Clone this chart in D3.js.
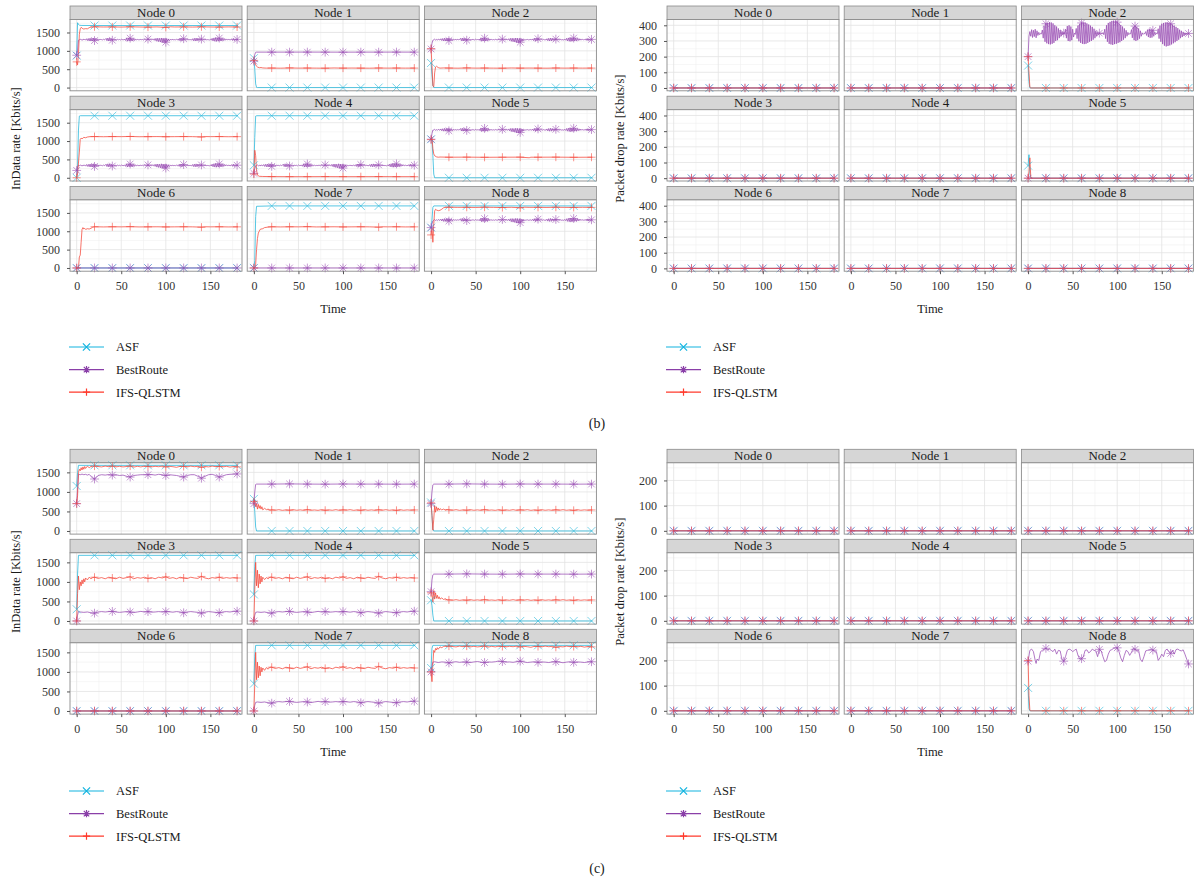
<!DOCTYPE html>
<html>
<head>
<meta charset="utf-8">
<script src="https://cdn.jsdelivr.net/npm/d3@7"></script>
<style>
  body { margin: 0; background: #fff; }
  svg text { font-family: "Liberation Serif", "DejaVu Serif", serif; }
</style>
</head>
<body>
<svg id="chart" width="1194" height="885"></svg>
<script>
// ---- categories / ticks ----
const nodeNames = ['Node 0', 'Node 1', 'Node 2', 'Node 3', 'Node 4', 'Node 5', 'Node 6', 'Node 7', 'Node 8'];
const seriesNames = ['ASF', 'BestRoute', 'IFS-QLSTM'];
const timeTicks = [0, 50, 100, 150];
const inTicksB = [0, 500, 1000, 1500];
const dropTicksB = [0, 100, 200, 300, 400];
const inTicksC = [0, 500, 1000, 1500];
const dropTicksC = [0, 100, 200];

// ---- values: [time, value] ----
const tailZero = [[20,0],[40,0],[60,0],[80,0],[100,0],[120,0],[140,0],[160,0],[180,0],[181,0]];
const zeroLine = [[0,0]].concat(tailZero);
const tailAsfB = [[20,1690],[40,1690],[60,1690],[80,1690],[100,1690],[120,1690],[140,1690],[160,1690],[180,1690],[181,1690]];
const tailAsfC = [[20,1680],[40,1680],[60,1680],[80,1680],[100,1680],[120,1680],[140,1680],[160,1680],[180,1680],[181,1680]];
const tailBr965 = [[20,965],[40,965],[60,966],[80,965],[100,964],[120,965],[140,965],[160,966],[180,965],[181,965]];
const tailBr1200 = [[20,1200],[40,1205],[60,1200],[80,1198],[100,1202],[120,1200],[140,1200],[160,1198],[180,1200],[181,1200]];

const tailIfs530B = [[20,532],[30,528],[40,535],[50,530],[60,532],[70,530],[80,528],[90,534],[100,530],[110,532],[120,530],[130,528],[140,533],[150,530],[160,532],[170,530],[180,531],[181,531]];
const tailIfs1120B = [[20,1122],[30,1118],[40,1122],[50,1120],[60,1125],[70,1118],[80,1120],[90,1122],[100,1118],[110,1120],[120,1122],[130,1120],[140,1112],[145,1122],[150,1120],[160,1122],[170,1118],[180,1120],[181,1120]];
const tailIfs1650B = [[20,1655],[30,1650],[40,1652],[50,1648],[60,1655],[70,1650],[80,1646],[90,1652],[100,1640],[105,1655],[110,1650],[120,1652],[130,1648],[140,1654],[150,1650],[160,1648],[170,1652],[180,1650],[181,1650]];

// BestRoute in (b), values at t = 3, 4, 5, ... 181
const brFuzzHigh = [
  1300,1318,1295,1312,1290,1320,1305,1296,1330,1280,
  1335,1270,1345,1275,1340,1268,1350,1280,1338,1285,
  1330,1290,1318,1300,1312,1305,1298,1315,1302,1310,
  1340,1275,1350,1270,1345,1280,1335,1290,1325,1300,
  1312,1305,1298,1316,1300,1310,1295,1318,1303,1308,
  1296,1322,1280,1345,1265,1350,1270,1345,1268,1340,
  1275,1335,1282,1325,1295,1312,1300,1308,1298,1315,
  1302,1310,1296,1318,1300,1306,1292,1320,1298,1310,
  1304,1300,1312,1296,1330,1280,1340,1260,1345,1250,
  1340,1240,1350,1230,1345,1220,1340,1235,1335,1255,
  1325,1275,1310,1300,1305,1312,1298,1306,1300,1314,
  1295,1325,1280,1338,1272,1342,1278,1330,1290,1318,
  1302,1308,1298,1312,1300,1306,1294,1330,1276,1342,
  1268,1348,1270,1340,1280,1332,1288,1320,1298,1310,
  1304,1300,1310,1298,1306,1302,1296,1318,1290,1340,
  1270,1352,1262,1360,1258,1355,1265,1348,1270,1345,
  1275,1340,1280,1332,1290,1325,1298,1312,1302,1308,
  1296,1330,1282,1338,1278,1325,1290,1312,1300
];
const brFuzzLow = [
  330,348,325,342,320,350,335,326,360,310,
  365,300,375,305,370,298,380,310,368,315,
  360,320,348,330,342,335,328,345,332,340,
  370,305,380,300,375,310,365,320,355,330,
  342,335,328,346,330,340,325,348,333,338,
  326,352,310,375,295,380,300,375,298,370,
  305,365,312,355,325,342,330,338,328,345,
  332,340,326,348,330,336,322,350,328,340,
  334,330,342,326,360,310,370,290,375,280,
  370,270,380,260,375,250,370,265,365,285,
  355,305,340,330,335,342,328,336,330,344,
  325,355,310,368,302,372,308,360,320,348,
  332,338,328,342,330,336,324,360,306,372,
  298,378,300,370,310,362,318,350,328,340,
  334,330,340,328,336,332,326,348,320,370,
  300,382,292,390,288,385,295,378,300,375,
  305,370,310,362,320,355,328,342,332,338,
  326,360,312,368,308,355,320,342,330
];
// BestRoute packet drop, (b) Node 2, values at t = 2, 3, ... 181
const brOscDrop = [
  360,330,372,322,368,328,375,320,365,335,
  355,340,348,345,370,318,395,295,410,285,
  415,280,420,278,418,282,412,288,400,300,
  392,305,380,318,370,330,360,340,350,345,
  375,318,395,300,400,298,392,305,375,325,
  350,342,380,315,398,298,410,288,415,282,
  418,280,416,282,412,288,405,295,398,300,
  390,308,378,318,365,330,355,340,350,345,
  348,346,352,340,375,315,400,295,415,282,
  422,278,428,275,430,280,428,282,420,288,
  412,292,402,300,392,308,380,318,368,330,
  355,340,348,345,372,320,390,305,395,300,
  390,305,380,315,365,330,352,342,348,346,
  360,335,372,325,378,320,375,322,368,330,
  355,340,350,345,378,315,398,295,410,280,
  415,270,418,265,420,268,416,272,410,278,
  405,285,398,292,390,300,382,308,372,318,
  365,325,358,332,352,338,350,342,348,345
];

const tailIfs1650C = [[20,1660],[24,1650],[28,1640],[32,1660],[36,1645],[40,1660],[44,1640],[48,1655],[52,1640],[56,1650],[60,1660],[64,1635],[68,1655],[72,1640],[76,1660],[80,1650],[84,1640],[88,1655],[92,1645],[96,1660],[100,1640],[104,1655],[108,1645],[112,1630],[116,1655],[120,1650],[124,1640],[128,1660],[132,1645],[136,1655],[140,1630],[144,1650],[148,1640],[152,1660],[156,1645],[160,1650],[164,1640],[168,1655],[172,1635],[176,1650],[180,1640],[181,1640]];
const tailIfs1100C = [[20,1120],[24,1090],[28,1110],[32,1080],[36,1120],[40,1100],[44,1080],[48,1120],[52,1090],[56,1110],[60,1130],[64,1080],[68,1110],[72,1095],[76,1120],[80,1090],[84,1110],[88,1080],[92,1120],[96,1100],[100,1130],[104,1090],[108,1110],[112,1080],[116,1120],[120,1100],[124,1085],[128,1120],[132,1100],[136,1090],[140,1140],[144,1100],[148,1080],[152,1110],[156,1095],[160,1120],[164,1090],[168,1110],[172,1095],[176,1110],[180,1100],[181,1100]];
const tailIfs540C = [[20,540],[24,530],[28,545],[32,528],[36,540],[40,532],[44,545],[48,530],[52,540],[56,528],[60,545],[64,530],[68,538],[72,528],[76,545],[80,530],[84,540],[88,530],[92,545],[96,528],[100,540],[104,532],[108,545],[112,528],[116,540],[120,530],[124,545],[128,530],[132,540],[136,528],[140,542],[144,530],[148,545],[152,530],[156,540],[160,528],[164,545],[168,530],[172,540],[176,532],[180,538],[181,538]];
const tailBr230C = [[4,230],[8,220],[12,230],[16,210],[20,200],[24,230],[28,240],[32,230],[36,240],[40,245],[44,230],[48,220],[52,230],[56,240],[60,230],[64,215],[68,230],[72,245],[76,230],[80,240],[84,225],[88,230],[92,240],[96,230],[100,240],[104,235],[108,225],[112,240],[116,230],[120,210],[124,230],[128,240],[132,230],[136,220],[140,200],[144,225],[148,240],[152,230],[156,220],[160,210],[164,230],[168,240],[172,230],[176,245],[180,250],[181,250]];
const tailBr1250C = [[4,1260],[8,1240],[12,1255],[16,1250],[20,1230],[24,1250],[28,1260],[32,1245],[36,1255],[40,1250],[44,1240],[48,1255],[52,1265],[56,1250],[60,1240],[64,1255],[68,1250],[72,1260],[76,1280],[80,1265],[84,1250],[88,1255],[92,1245],[96,1260],[100,1275],[104,1255],[108,1240],[112,1250],[116,1260],[120,1245],[124,1255],[128,1250],[132,1240],[136,1255],[140,1260],[144,1250],[148,1235],[152,1250],[156,1260],[160,1245],[164,1255],[168,1250],[172,1240],[176,1255],[180,1260],[181,1260]];
const brDropC8 = [[0,197],[2,240],[4,245],[6,235],[8,200],[9,188],[10,205],[12,200],[14,235],[16,240],[18,245],[20,248],[22,242],[24,245],[26,240],[28,235],[30,245],[32,225],[34,240],[36,238],[38,205],[40,197],[42,215],[44,240],[46,245],[48,242],[50,235],[52,240],[54,245],[56,220],[58,205],[60,207],[62,215],[64,240],[66,242],[68,230],[70,235],[72,245],[74,240],[76,238],[78,215],[80,244],[82,238],[84,215],[86,195],[88,200],[90,225],[92,240],[94,243],[96,248],[98,250],[100,250],[102,235],[104,210],[106,195],[108,220],[110,240],[112,235],[114,220],[116,232],[118,248],[120,244],[122,238],[124,240],[126,205],[128,195],[130,215],[132,238],[134,240],[136,242],[138,245],[140,241],[142,238],[144,235],[146,200],[148,210],[150,225],[152,215],[154,240],[156,245],[158,235],[160,228],[162,240],[164,225],[166,243],[168,245],[170,240],[172,238],[174,242],[176,225],[178,205],[180,186],[181,186]];

// typed values listed at consecutive seconds
function fromStep(start, values) {
  return values.map((v, i) => [start + i, v]);
}

// (b) InData rate, one series per node
const bInAsf = [
  [[0,870],[1,1766],[2,1720],[3,1700],[5,1692]].concat(tailAsfB),
  [[0,800],[1,500],[2,100],[3,5],[4,0]].concat(tailZero),
  [[0,670],[1,350],[2,60],[3,0]].concat(tailZero),
  [[0,0],[1,300],[2,1300],[3,1680],[4,1690]].concat(tailAsfB),
  [[0,340],[1,1100],[2,1680],[3,1690]].concat(tailAsfB),
  [[0,1050],[1,1000],[2,600],[3,100],[4,0]].concat(tailZero),
  zeroLine,
  [[0,0],[1,200],[2,1400],[3,1680]].concat(tailAsfB),
  [[0,1100],[1,1300],[2,1650],[3,1690]].concat(tailAsfB)
];
const bInBest = [
  [[0,880],[1,1000],[2,1290]].concat(fromStep(3, brFuzzHigh)),
  [[0,720],[1,900],[2,960],[3,965]].concat(tailBr965),
  [[0,1050],[1,1200],[2,1290]].concat(fromStep(3, brFuzzHigh)),
  [[0,200],[1,300],[2,340]].concat(fromStep(3, brFuzzLow)),
  [[0,120],[1,250],[2,330]].concat(fromStep(3, brFuzzLow)),
  [[0,1050],[1,1200],[2,1300]].concat(fromStep(3, brFuzzHigh)),
  zeroLine,
  zeroLine,
  [[0,1100],[1,1200],[2,1280]].concat(fromStep(3, brFuzzHigh))
];
const bInIfs = [
  [[0,700],[1,620],[2,900],[3,1450],[4,1600],[5,1640],[6,1620],[7,1600],[8,1595],[10,1605],[12,1600],[14,1630],[16,1650],[18,1648]].concat(tailIfs1650B),
  [[0,740],[1,700],[2,620],[3,580],[4,560],[6,540],[8,545],[10,535],[14,530]].concat(tailIfs530B),
  [[0,1060],[1,600],[2,50],[3,20],[4,400],[5,560],[6,580],[8,545],[10,530],[14,535]].concat(tailIfs530B),
  [[0,0],[1,100],[2,400],[3,700],[4,1050],[5,1080],[6,1060],[8,1100],[10,1090],[12,1110],[15,1120]].concat(tailIfs1120B),
  [[0,100],[1,750],[2,600],[3,200],[4,80],[5,50],[6,40],[10,35],[20,32],[40,30],[60,30],[80,32],[100,30],[120,30],[140,32],[160,30],[180,30],[181,30]],
  [[0,1040],[1,1100],[2,800],[3,650],[4,600],[6,570],[8,560],[10,565],[20,560],[40,562],[60,558],[80,560],[100,562],[110,545],[112,560],[120,560],[140,562],[160,558],[180,560],[181,560]],
  [[0,0],[2,0],[3,300],[4,350],[5,700],[6,1050],[7,1100],[8,1060],[9,1080],[10,1050],[12,1070],[14,1060],[16,1080],[18,1110]].concat(tailIfs1120B),
  [[0,0],[1,0],[2,100],[3,500],[4,800],[5,950],[6,1000],[7,1050],[8,1060],[10,1070],[12,1100],[15,1110]].concat(tailIfs1120B),
  [[0,900],[1,1100],[2,700],[3,1200],[4,1550],[5,1600],[6,1580],[8,1560],[10,1570],[12,1600],[14,1640],[16,1650]].concat(tailIfs1650B)
];

// (b) Packet drop rate
const bDropAsf = [zeroLine, zeroLine, [[0,143],[1,40],[2,0]].concat(tailZero), zeroLine, zeroLine,
  [[0,80],[1,150],[2,30],[3,0]].concat(tailZero), zeroLine, zeroLine, zeroLine];
const bDropBest = [zeroLine, zeroLine, [[0,200],[1,330]].concat(fromStep(2, brOscDrop)), zeroLine, zeroLine,
  zeroLine, zeroLine, zeroLine, zeroLine];
const bDropIfs = [zeroLine, zeroLine, [[0,200],[1,100],[2,5],[3,0]].concat(tailZero), zeroLine, zeroLine,
  [[0,0],[1,40],[2,130],[3,10],[4,0]].concat(tailZero), zeroLine, zeroLine, zeroLine];

// (c) InData rate
const cInAsf = [
  [[0,1150],[1,1500],[2,1680]].concat(tailAsfC),
  [[0,820],[1,500],[2,100],[3,0]].concat(tailZero),
  [[0,730],[1,400],[2,60],[3,0]].concat(tailZero),
  [[0,300],[1,1200],[2,1680]].concat(tailAsfC),
  [[0,680],[1,1400],[2,1680]].concat(tailAsfC),
  [[0,530],[1,400],[2,150],[3,0]].concat(tailZero),
  zeroLine,
  [[0,700],[1,1400],[2,1680]].concat(tailAsfC),
  [[0,1100],[1,1600],[2,1680]].concat(tailAsfC)
];
const cInBest = [
  [[0,700],[1,1100],[2,1450],[4,1440],[6,1455],[8,1440],[10,1450],[12,1430],[14,1450],[16,1400],[18,1350],[20,1330],[22,1370],[24,1420],[28,1440],[32,1430],[36,1445],[40,1430],[44,1440],[48,1420],[52,1430],[56,1400],[60,1380],[64,1420],[68,1430],[72,1440],[76,1440],[80,1440],[84,1445],[88,1430],[92,1450],[96,1440],[100,1420],[104,1440],[108,1430],[112,1420],[116,1400],[120,1380],[124,1420],[128,1440],[132,1440],[136,1400],[140,1350],[144,1400],[148,1440],[152,1450],[156,1420],[160,1380],[164,1410],[168,1440],[172,1450],[176,1455],[180,1460],[181,1460]],
  [[0,700],[1,1000],[2,1190],[3,1200]].concat(tailBr1200),
  [[0,700],[1,1000],[2,1180],[3,1200]].concat(tailBr1200),
  [[0,0],[1,150],[2,240]].concat(tailBr230C),
  [[0,0],[1,150],[2,220]].concat(tailBr230C),
  [[0,750],[1,1050],[2,1180],[3,1200]].concat(tailBr1200),
  zeroLine,
  [[0,0],[1,150],[2,220]].concat(tailBr230C),
  [[0,1000],[1,1150],[2,1250]].concat(tailBr1250C)
];
const cInIfs = [
  [[0,700],[1,900],[2,1500],[3,1580],[4,1540],[5,1620],[6,1560],[7,1640],[8,1580],[9,1650],[10,1600],[12,1660],[14,1620],[16,1650],[18,1640]].concat(tailIfs1650C),
  [[0,750],[1,800],[2,620],[3,700],[4,560],[5,680],[6,580],[7,650],[8,560],[9,620],[10,540],[12,580],[14,545],[16,560],[18,530]].concat(tailIfs540C),
  [[0,720],[1,400],[2,20],[3,300],[4,650],[5,480],[6,620],[7,520],[8,590],[9,530],[10,570],[12,540],[14,560],[16,535],[18,550]].concat(tailIfs540C),
  [[0,0],[1,700],[2,1150],[3,800],[4,1000],[5,900],[6,1050],[7,950],[8,1080],[9,1000],[10,1100],[12,1050],[14,1120],[16,1080],[18,1110]].concat(tailIfs1100C),
  [[0,0],[1,800],[2,1500],[3,900],[4,1300],[5,850],[6,1200],[7,950],[8,1150],[9,1000],[10,1120],[12,1060],[14,1110],[16,1080],[18,1120]].concat(tailIfs1100C),
  [[0,720],[1,700],[2,480],[3,780],[4,560],[5,720],[6,580],[7,660],[8,570],[9,620],[10,560],[12,590],[14,550],[16,570],[18,540]].concat(tailIfs540C),
  zeroLine,
  [[0,0],[1,700],[2,1500],[3,800],[4,1250],[5,850],[6,1150],[7,900],[8,1120],[9,1000],[10,1100],[12,1040],[14,1110],[16,1070],[18,1120]].concat(tailIfs1100C),
  [[0,1000],[1,750],[2,1200],[3,1550],[4,1500],[5,1600],[6,1560],[7,1620],[8,1580],[10,1640],[12,1620],[14,1650],[16,1660],[18,1645]].concat(tailIfs1650C)
];

// (c) Packet drop rate
const cDropAsf = [zeroLine, zeroLine, zeroLine, zeroLine, zeroLine, zeroLine, zeroLine, zeroLine,
  [[0,91],[1,10],[2,0]].concat(tailZero)];
const cDropBest = [zeroLine, zeroLine, zeroLine, zeroLine, zeroLine, zeroLine, zeroLine, zeroLine, brDropC8];
const cDropIfs = [zeroLine, zeroLine, zeroLine, zeroLine, zeroLine, zeroLine, zeroLine, zeroLine,
  [[0,200],[1,60],[2,2],[3,0]].concat(tailZero)];

// ---- styles ----
const colors = ['#22b6da', '#9a4fb4', '#f4473a'];
const legendColors = ['#12b4e0', '#8a3fa8', '#ff3a2c'];
const fontFamily = '"Liberation Serif", "DejaVu Serif", serif';
const svg = d3.select('#chart');

const panelW = 172, stripH = 13.5, panelH = 71.3, colPitch = 177.2;
const xDomain = [-7.5, 185.5];

function markerPath(kind, s) {
  if (kind === 0) return `M${-s},${-s}L${s},${s}M${-s},${s}L${s},${-s}`;
  if (kind === 1) {
    const d = s * 0.75;
    return `M${-s},0L${s},0M0,${-s}L0,${s}M${-d},${-d}L${d},${d}M${-d},${d}L${d},${-d}`;
  }
  return `M${-s},0L${s},0M0,${-s}L0,${s}`;
}

let clipId = 0;

function styleAxis(ax) {
  ax.attr('font-family', fontFamily).attr('font-size', 12);
  ax.select('.domain').remove();
  ax.selectAll('line').attr('stroke', '#555');
  ax.selectAll('text').style('font-size', '12px').style('fill', '#333')
    .style('font-family', fontFamily);
}

function drawFacet(cfg) {
  const g = svg.append('g');
  const x = d3.scaleLinear().domain(xDomain).range([0, panelW]);
  const y = d3.scaleLinear().domain(cfg.yDomain).range([panelH, 0]);
  const line = d3.line().x(d => x(d[0])).y(d => y(d[1]));

  const yMinor = [];
  for (let i = 0; i < cfg.yTicks.length; i++) {
    const step = cfg.yTicks[1] - cfg.yTicks[0];
    const m = cfg.yTicks[i] + step / 2;
    if (m < cfg.yDomain[1]) yMinor.push(m);
  }

  nodeNames.forEach((name, i) => {
    const col = i % 3, row = Math.floor(i / 3);
    const px = cfg.left + col * colPitch;
    const py = cfg.top + row * cfg.rowPitch;

    // strip
    g.append('rect')
      .attr('x', px).attr('y', py)
      .attr('width', panelW).attr('height', stripH)
      .attr('fill', '#d6d6d6').attr('stroke', '#8a8a8a').attr('stroke-width', 0.8);
    g.append('text')
      .attr('x', px + panelW / 2).attr('y', py + stripH / 2 + 4.3)
      .attr('text-anchor', 'middle')
      .style('font-size', '13px').style('fill', '#1a1a1a')
      .text(name);

    const pg = g.append('g').attr('transform', `translate(${px},${py + stripH})`);
    const id = 'clip' + (clipId++);
    pg.append('clipPath').attr('id', id)
      .append('rect').attr('width', panelW).attr('height', panelH);

    pg.append('rect').attr('width', panelW).attr('height', panelH).attr('fill', '#fff');

    // grid
    pg.selectAll('.ymin').data(yMinor).join('line')
      .attr('x1', 0).attr('x2', panelW)
      .attr('y1', d => y(d)).attr('y2', d => y(d))
      .attr('stroke', '#f0f0f0').attr('stroke-width', 0.6);
    pg.selectAll('.xmin').data([25, 75, 125, 175]).join('line')
      .attr('x1', d => x(d)).attr('x2', d => x(d))
      .attr('y1', 0).attr('y2', panelH)
      .attr('stroke', '#f0f0f0').attr('stroke-width', 0.6);
    pg.selectAll('.ymaj').data(cfg.yTicks).join('line')
      .attr('x1', 0).attr('x2', panelW)
      .attr('y1', d => y(d)).attr('y2', d => y(d))
      .attr('stroke', '#e3e3e3').attr('stroke-width', 0.8);
    pg.selectAll('.xmaj').data(timeTicks).join('line')
      .attr('x1', d => x(d)).attr('x2', d => x(d))
      .attr('y1', 0).attr('y2', panelH)
      .attr('stroke', '#e3e3e3').attr('stroke-width', 0.8);

    const series = [cfg.asf[i], cfg.best[i], cfg.ifs[i]];
    const plot = pg.append('g').attr('clip-path', `url(#${id})`);
    series.forEach((s, k) => {
      plot.append('path')
        .attr('d', line(s))
        .attr('fill', 'none')
        .attr('stroke', colors[k])
        .attr('stroke-width', 0.9)
        .attr('stroke-opacity', 0.85)
        .attr('stroke-linejoin', 'round');
    });
    series.forEach((s, k) => {
      const marks = s.filter(d => d[0] % 20 === 0 && d[0] <= 180);
      pg.selectAll(null).data(marks).join('path')
        .attr('transform', d => `translate(${x(d[0])},${y(d[1])})`)
        .attr('d', markerPath(k, k === 1 ? 4.4 : 4))
        .attr('fill', 'none')
        .attr('stroke', colors[k])
        .attr('stroke-width', 0.9)
        .attr('stroke-opacity', 0.65);
    });

    pg.append('rect').attr('width', panelW).attr('height', panelH)
      .attr('fill', 'none').attr('stroke', '#8a8a8a').attr('stroke-width', 0.9);

    if (col === 0) {
      const ax = pg.append('g').call(d3.axisLeft(y).tickValues(cfg.yTicks)
        .tickFormat(d3.format('d')).tickSize(3).tickPadding(7));
      styleAxis(ax);
    }
    if (row === 2) {
      const ax = pg.append('g').attr('transform', `translate(0,${panelH})`)
        .call(d3.axisBottom(x).tickValues(timeTicks).tickFormat(d3.format('d')).tickSize(3).tickPadding(7));
      styleAxis(ax);
    }
  });

  const totalW = 2 * colPitch + panelW;
  const bottom = cfg.top + 2 * cfg.rowPitch + stripH + panelH;
  svg.append('text')
    .attr('x', cfg.left + totalW / 2).attr('y', bottom + 42)
    .attr('text-anchor', 'middle')
    .style('font-size', '12.5px').style('fill', '#1a1a1a')
    .text('Time');
  svg.append('text')
    .attr('transform', `translate(${cfg.yTitleX},${(cfg.top + bottom) / 2}) rotate(-90)`)
    .attr('text-anchor', 'middle')
    .style('font-size', '12.5px').style('fill', '#1a1a1a')
    .text(cfg.yTitle);

  // legend
  seriesNames.forEach((s, k) => {
    const ly = cfg.legendY + k * 22.6;
    const lg = svg.append('g').attr('transform', `translate(${cfg.left - 1},${ly})`);
    lg.append('line').attr('x1', 0).attr('x2', 35).attr('y1', 0).attr('y2', 0)
      .attr('stroke', legendColors[k]).attr('stroke-width', 1.2);
    lg.append('path').attr('transform', 'translate(17.5,0)')
      .attr('d', markerPath(k, 3.6))
      .attr('fill', 'none').attr('stroke', legendColors[k]).attr('stroke-width', 1.2);
    lg.append('text').attr('x', 47).attr('y', 4.3)
      .style('font-size', '12.5px').style('fill', '#1a1a1a')
      .text(s);
  });
}

drawFacet({ left: 70, top: 6, rowPitch: 90.2, yDomain: [-88, 1854], yTicks: inTicksB,
  asf: bInAsf, best: bInBest, ifs: bInIfs, yTitle: 'InData rate [Kbits/s]', yTitleX: 20, legendY: 347 });
drawFacet({ left: 667, top: 6, rowPitch: 90.2, yDomain: [-18, 437], yTicks: dropTicksB,
  asf: bDropAsf, best: bDropBest, ifs: bDropIfs, yTitle: 'Packet drop rate [Kbits/s]', yTitleX: 624, legendY: 347 });
drawFacet({ left: 70, top: 449.3, rowPitch: 90, yDomain: [-80, 1745], yTicks: inTicksC,
  asf: cInAsf, best: cInBest, ifs: cInIfs, yTitle: 'InData rate [Kbits/s]', yTitleX: 20, legendY: 791 });
drawFacet({ left: 667, top: 449.3, rowPitch: 90, yDomain: [-13, 270], yTicks: dropTicksC,
  asf: cDropAsf, best: cDropBest, ifs: cDropIfs, yTitle: 'Packet drop rate [Kbits/s]', yTitleX: 624, legendY: 791 });

svg.append('text').attr('x', 597).attr('y', 428).attr('text-anchor', 'middle')
  .style('font-size', '14px').style('fill', '#1a1a1a').text('(b)');
svg.append('text').attr('x', 597).attr('y', 873).attr('text-anchor', 'middle')
  .style('font-size', '14px').style('fill', '#1a1a1a').text('(c)');
</script>
</body>
</html>
